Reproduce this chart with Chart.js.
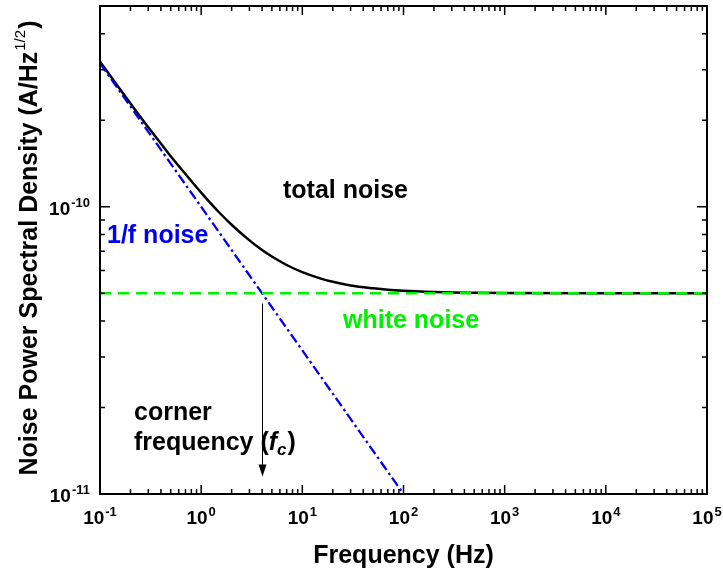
<!DOCTYPE html>
<html>
<head>
<meta charset="utf-8">
<script src="https://cdn.jsdelivr.net/npm/chart.js@4.4.1/dist/chart.umd.min.js"></script>
<style>
    html, body { margin: 0; padding: 0; background: #fff; }
    canvas { display: block; }
</style>
</head>
<body>
<canvas id="noiseChart" width="723" height="572"></canvas>
<script>
// --- data ---
const frequencies = [0.1, 0.15, 0.2, 0.3, 0.4, 0.5, 0.7, 1, 1.5, 2, 3, 4, 5, 7, 10, 15, 20, 30, 50, 70,
                     100, 200, 300, 500, 1000, 10000, 100000];
const totalNoise = [3.20e-10, 2.63e-10, 2.29e-10, 1.89e-10, 1.66e-10, 1.50e-10, 1.30e-10, 1.12e-10, 9.57e-11, 8.66e-11,
                    7.64e-11, 7.07e-11, 6.71e-11, 6.27e-11, 5.92e-11, 5.63e-11, 5.48e-11, 5.32e-11, 5.20e-11, 5.14e-11,
                    5.10e-11, 5.05e-11, 5.03e-11, 5.02e-11, 5.01e-11, 5.0e-11, 5.0e-11];
const flickerFreq = [0.1, 100];
const flickerNoise = [3.16e-10, 1.0e-11];
const whiteFreq = [0.1, 100000];
const whiteNoise = [5.0e-11, 5.0e-11];

// corner frequency arrow (f, top value, bottom value)
const cornerFreq = 4;
const arrowSpan = [4.6e-11, 1.15e-11];

// axis ranges and tick labels
const xRange = [0.1, 100000];
const yRange = [1e-11, 5e-10];
const xTickExponents = ['-1', '0', '1', '2', '3', '4', '5'];
const yTickExponents = ['-11', '-10'];
const minorSteps = [2, 3, 4, 5, 6, 7, 8, 9];

const FONT = "'Liberation Sans', Arial, Helvetica, sans-serif";
const BLUE = '#0000f0';
const GREEN = '#00f000';

function toPoints(xs, ys) {
    return xs.map((x, i) => ({ x: x, y: ys[i] }));
}

// draws "10" with a raised exponent; align = 'center' | 'right'
function drawPower(ctx, exp, x, y, align) {
    ctx.font = `bold 19px ${FONT}`;
    const wBase = ctx.measureText('10').width;
    ctx.font = `bold 13px ${FONT}`;
    const wExp = ctx.measureText(exp).width;
    const total = wBase + wExp + 1;
    let left = align === 'right' ? x - total : x - total / 2;
    ctx.textAlign = 'left';
    ctx.textBaseline = 'alphabetic';
    ctx.font = `bold 19px ${FONT}`;
    ctx.fillText('10', left, y);
    ctx.font = `bold 13px ${FONT}`;
    ctx.fillText(exp, left + wBase + 1, y - 8);
}

const framePlugin = {
    id: 'framePlugin',
    afterDraw(chart) {
        const ctx = chart.ctx;
        const a = chart.chartArea;
        const xs = chart.scales.x;
        const ys = chart.scales.y;
        ctx.save();
        ctx.strokeStyle = '#000';
        ctx.fillStyle = '#000';

        // frame
        ctx.lineWidth = 2;
        ctx.strokeRect(a.left, a.top, a.right - a.left, a.bottom - a.top);

        // inward ticks on all four sides
        ctx.lineWidth = 1.5;
        ctx.beginPath();
        xTickExponents.forEach((e, i) => {
            const dec = Math.pow(10, parseInt(e));
            const px = xs.getPixelForValue(dec);
            ctx.moveTo(px, a.bottom); ctx.lineTo(px, a.bottom - 9);
            ctx.moveTo(px, a.top); ctx.lineTo(px, a.top + 9);
            if (i < xTickExponents.length - 1) {
                minorSteps.forEach(m => {
                    const p = xs.getPixelForValue(m * dec);
                    ctx.moveTo(p, a.bottom); ctx.lineTo(p, a.bottom - 5);
                    ctx.moveTo(p, a.top); ctx.lineTo(p, a.top + 5);
                });
            }
        });
        yTickExponents.forEach(e => {
            const dec = Math.pow(10, parseInt(e));
            const py = ys.getPixelForValue(dec);
            ctx.moveTo(a.left, py); ctx.lineTo(a.left + 10, py);
            ctx.moveTo(a.right, py); ctx.lineTo(a.right - 10, py);
            minorSteps.forEach(m => {
                const v = m * dec;
                if (v > yRange[1]) return;
                const p = ys.getPixelForValue(v);
                ctx.moveTo(a.left, p); ctx.lineTo(a.left + 5, p);
                ctx.moveTo(a.right, p); ctx.lineTo(a.right - 5, p);
            });
        });
        ctx.stroke();

        // tick labels
        xTickExponents.forEach(e => {
            const px = xs.getPixelForValue(Math.pow(10, parseInt(e)));
            drawPower(ctx, e, px, a.bottom + 30, 'center');
        });
        yTickExponents.forEach(e => {
            const py = ys.getPixelForValue(Math.pow(10, parseInt(e)));
            drawPower(ctx, e, a.left - 10, py + 8, 'right');
        });

        // x axis title
        ctx.font = `bold 25px ${FONT}`;
        ctx.textAlign = 'center';
        ctx.fillText('Frequency (Hz)', (a.left + a.right) / 2, 563);

        // y axis title (rotated, with 1/2 superscript)
        ctx.save();
        ctx.translate(37, (a.top + a.bottom) / 2 - 2);
        ctx.rotate(-Math.PI / 2);
        const mainTxt = 'Noise Power Spectral Density (A/Hz';
        ctx.font = `bold 25px ${FONT}`;
        const w1 = ctx.measureText(mainTxt).width;
        ctx.font = `15px ${FONT}`;
        const w2 = ctx.measureText('1/2').width;
        ctx.font = `bold 25px ${FONT}`;
        const w3 = ctx.measureText(')').width;
        let sx = -(w1 + w2 + w3 + 2) / 2;
        ctx.textAlign = 'left';
        ctx.fillText(mainTxt, sx, 0);
        ctx.font = `15px ${FONT}`;
        ctx.fillText('1/2', sx + w1 + 1, -12);
        ctx.font = `bold 25px ${FONT}`;
        ctx.fillText(')', sx + w1 + w2 + 2, 0);
        ctx.restore();

        // curve labels
        ctx.textAlign = 'left';
        ctx.font = `bold 25px ${FONT}`;
        ctx.fillStyle = '#000';
        ctx.fillText('total noise', 283, 198);
        ctx.fillStyle = BLUE;
        ctx.fillText('1/f noise', 107, 243);
        ctx.fillStyle = GREEN;
        ctx.fillText('white noise', 343, 328);
        ctx.fillStyle = '#000';
        ctx.fillText('corner', 134, 420);
        const fq = 'frequency (';
        ctx.fillText(fq, 134, 450);
        let fx = 134 + ctx.measureText(fq).width;
        ctx.font = `italic bold 25px ${FONT}`;
        ctx.fillText('f', fx, 450);
        fx += ctx.measureText('f').width;
        ctx.font = `italic bold 17px ${FONT}`;
        ctx.fillText('c', fx, 455);
        fx += ctx.measureText('c').width + 1;
        ctx.font = `bold 25px ${FONT}`;
        ctx.fillText(')', fx, 450);

        // corner frequency arrow
        const axp = Math.round(xs.getPixelForValue(cornerFreq)) + 0.5;
        const ay1 = ys.getPixelForValue(arrowSpan[0]);
        const ay2 = ys.getPixelForValue(arrowSpan[1]);
        ctx.strokeStyle = '#000';
        ctx.lineWidth = 1;
        ctx.beginPath();
        ctx.moveTo(axp, ay1);
        ctx.lineTo(axp, ay2 - 10);
        ctx.stroke();
        ctx.beginPath();
        ctx.moveTo(axp - 4, ay2 - 12);
        ctx.lineTo(axp + 4, ay2 - 12);
        ctx.lineTo(axp, ay2);
        ctx.closePath();
        ctx.fill();

        ctx.restore();
    }
};

new Chart(document.getElementById('noiseChart'), {
    type: 'line',
    data: {
        datasets: [
            {
                label: 'white noise',
                data: toPoints(whiteFreq, whiteNoise),
                borderColor: GREEN,
                borderWidth: 2.5,
                borderDash: [11, 7],
                pointRadius: 0,
                order: 0
            },
            {
                label: '1/f noise',
                data: toPoints(flickerFreq, flickerNoise),
                borderColor: BLUE,
                borderWidth: 2.3,
                borderDash: [10, 3.5, 2.5, 3.5],
                pointRadius: 0,
                order: 1
            },
            {
                label: 'total noise',
                data: toPoints(frequencies, totalNoise),
                borderColor: '#000',
                borderWidth: 2.5,
                cubicInterpolationMode: 'monotone',
                pointRadius: 0,
                order: 2
            }
        ]
    },
    options: {
        responsive: false,
        animation: false,
        layout: { padding: { left: 100, top: 6, right: 16, bottom: 78 } },
        plugins: { legend: { display: false }, tooltip: { enabled: false } },
        scales: {
            x: { type: 'logarithmic', min: xRange[0], max: xRange[1], display: false },
            y: { type: 'logarithmic', min: yRange[0], max: yRange[1], display: false }
        }
    },
    plugins: [framePlugin]
});
</script>
</body>
</html>
